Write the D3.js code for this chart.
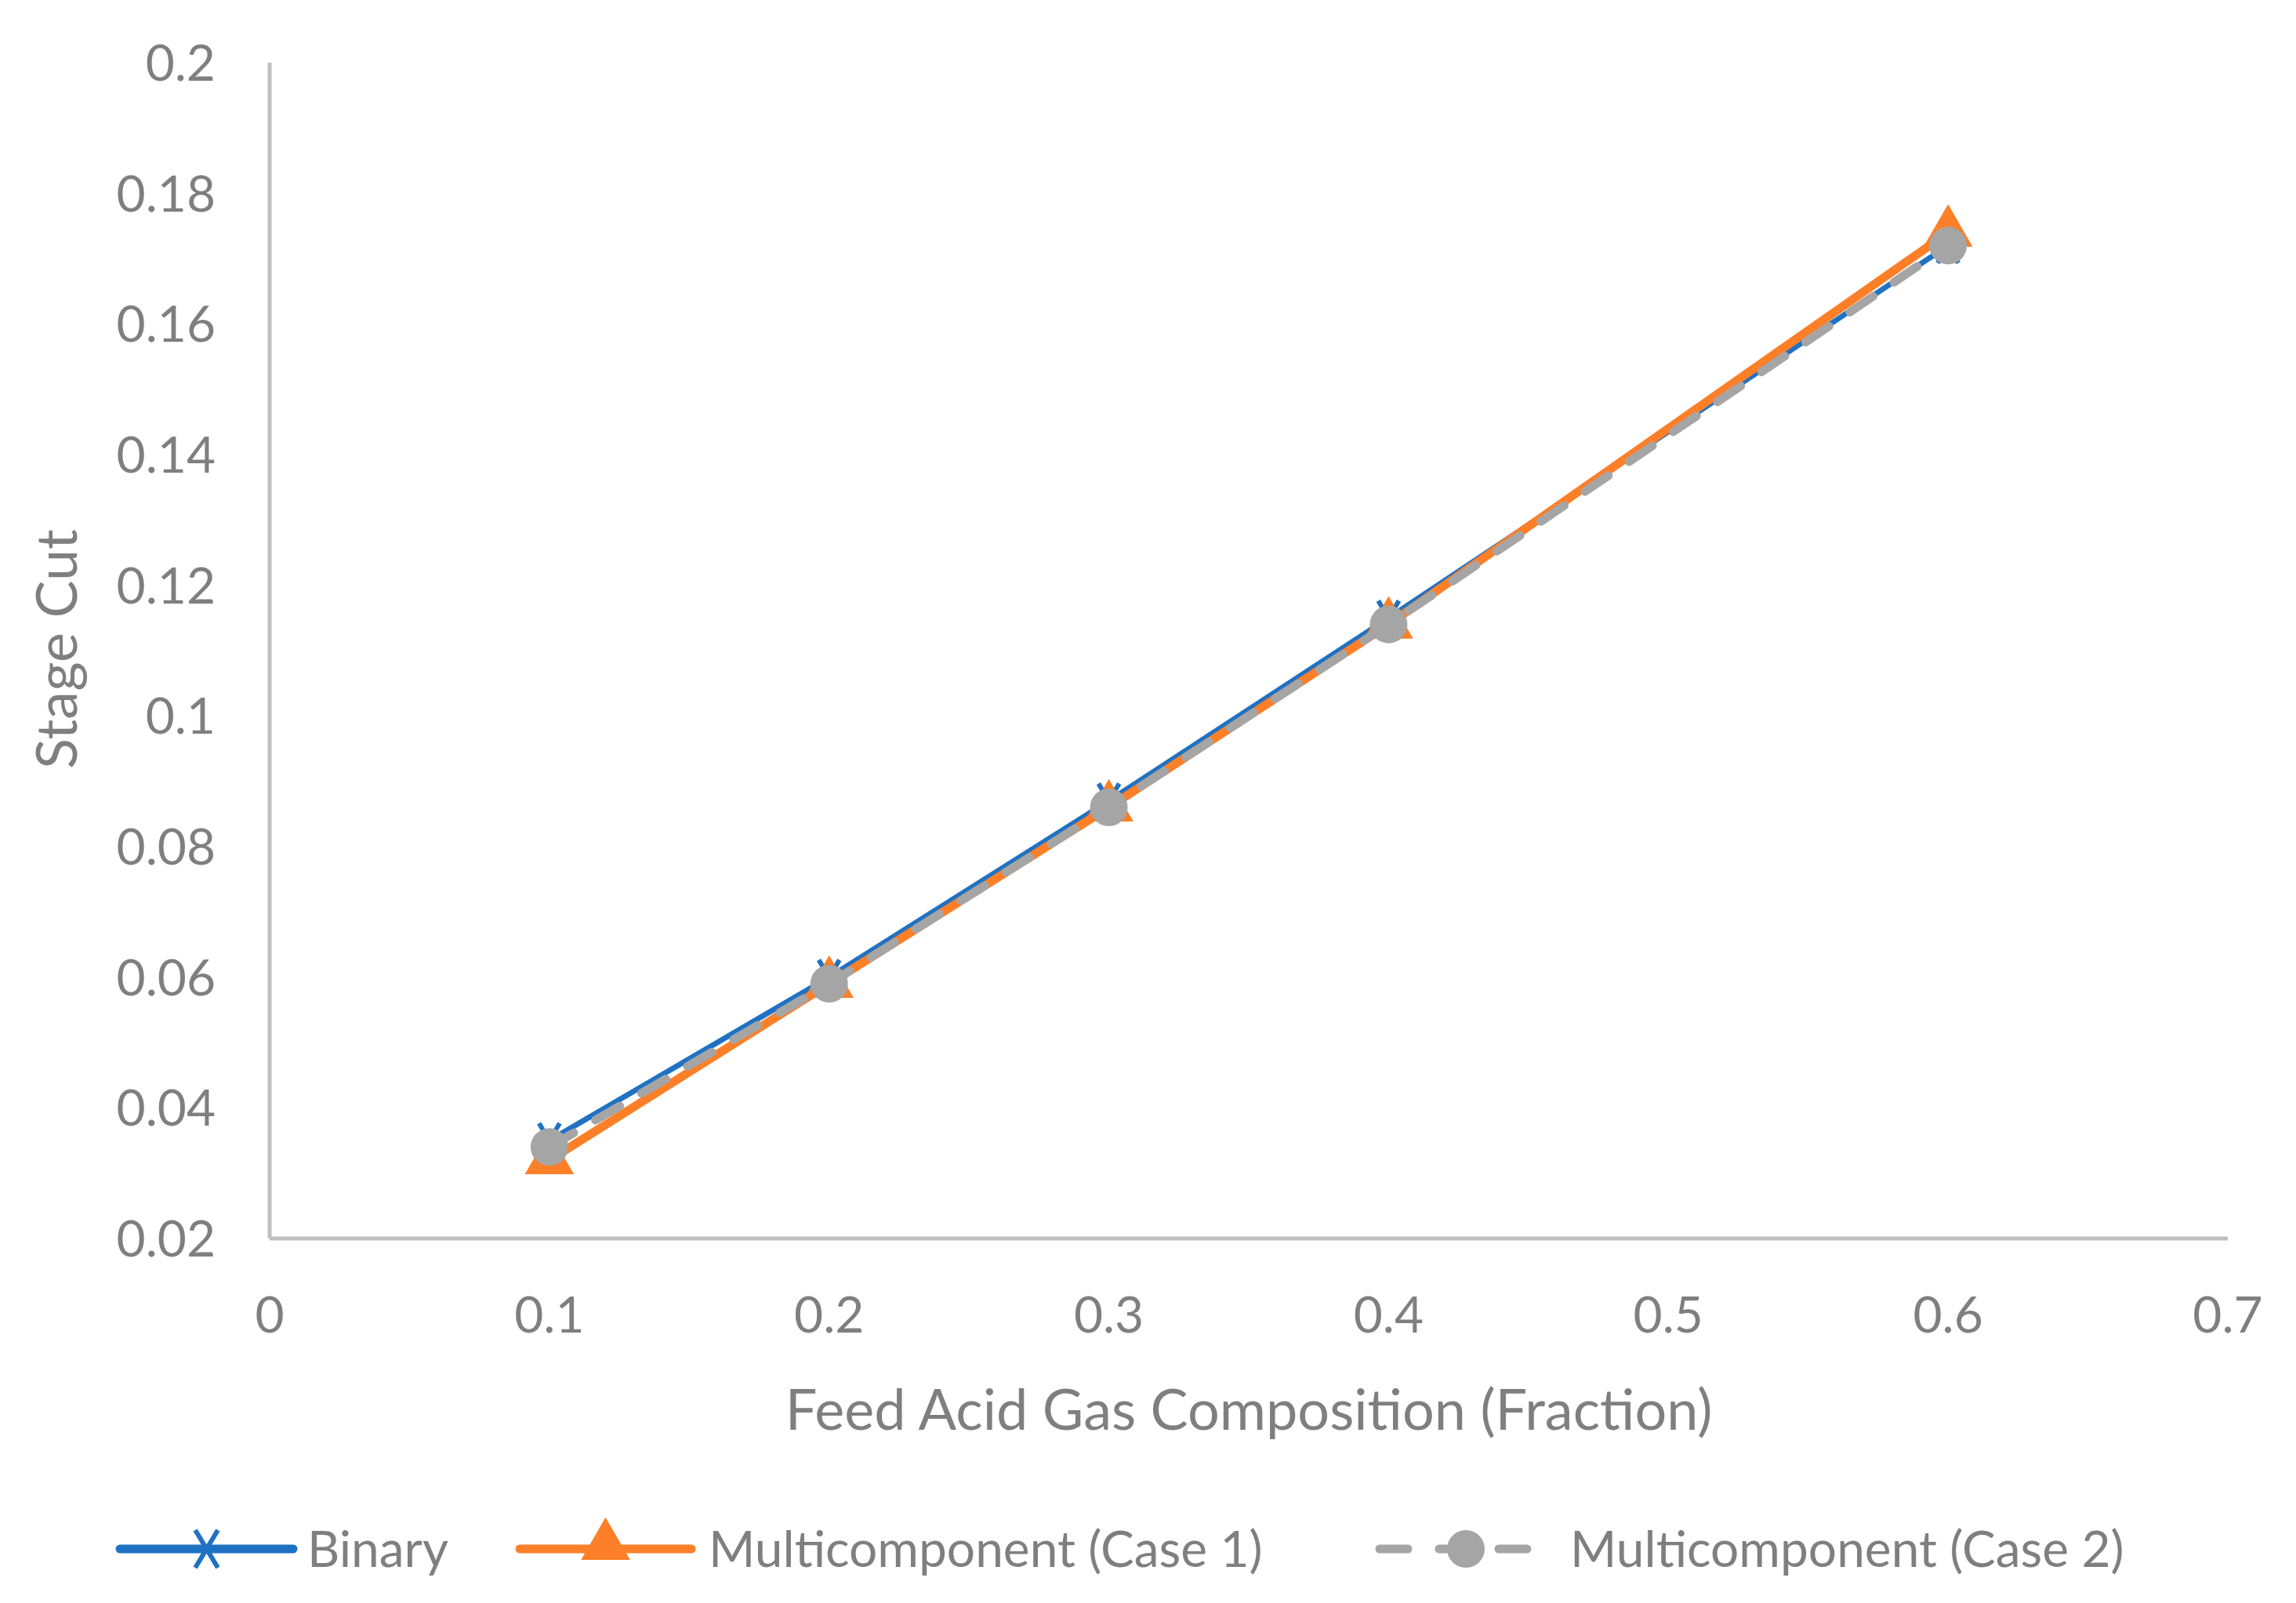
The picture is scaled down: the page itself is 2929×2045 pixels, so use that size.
<!DOCTYPE html>
<html>
<head>
<meta charset="utf-8">
<script src="https://cdn.jsdelivr.net/npm/d3@7"></script>
<style>
  body { margin: 0; background: #fff; }
  text { font-family: Lato, "Open Sans", sans-serif; fill: #7f7f7f; }
</style>
</head>
<body>
<svg id="chart" width="2929" height="2045"></svg>
<script>
var xValues = [0.1, 0.2, 0.3, 0.4, 0.6];
var binary = [0.035, 0.060, 0.087, 0.115, 0.172];
var case1 = [0.032, 0.059, 0.086, 0.114, 0.174];
var case2 = [0.034, 0.059, 0.086, 0.114, 0.172];
var xTicks = [0, 0.1, 0.2, 0.3, 0.4, 0.5, 0.6, 0.7];
var yTicks = [0.02, 0.04, 0.06, 0.08, 0.1, 0.12, 0.14, 0.16, 0.18, 0.2];

var svg = d3.select("#chart");
var x = d3.scaleLinear().domain([0, 0.7]).range([344, 2842]);
var y = d3.scaleLinear().domain([0.02, 0.2]).range([1580, 80]);

// axes (only the lines, Excel-style)
svg.append("line").attr("x1", x(0)).attr("x2", x(0.7)).attr("y1", y(0.02)).attr("y2", y(0.02))
    .attr("stroke", "#bfbfbf").attr("stroke-width", 5);
svg.append("line").attr("x1", x(0)).attr("x2", x(0)).attr("y1", y(0.2)).attr("y2", y(0.02))
    .attr("stroke", "#bfbfbf").attr("stroke-width", 5);

svg.selectAll(".xt").data(xTicks).enter().append("text")
    .attr("x", function (d) { return x(d); }).attr("y", 1700)
    .attr("text-anchor", "middle").attr("font-size", 64)
    .text(function (d) { return d3.format("")(d); });
svg.selectAll(".yt").data(yTicks).enter().append("text")
    .attr("x", 275).attr("y", function (d) { return y(d) + 23; })
    .attr("text-anchor", "end").attr("font-size", 64)
    .text(function (d) { return d3.format("")(d); });

svg.append("text").attr("x", 1593).attr("y", 1824).attr("text-anchor", "middle")
    .attr("font-size", 72).text("Feed Acid Gas Composition (Fraction)");
svg.append("text").attr("transform", "translate(98,828) rotate(-90)").attr("text-anchor", "middle")
    .attr("font-size", 72).text("Stage Cut");

function pts(vals) { return xValues.map(function (v, i) { return [x(v), y(vals[i])]; }); }
var line = d3.line();

function xMark(g, cx, cy, s, color) {
    g.append("path").attr("d", "M" + (cx - s * 0.6) + "," + (cy - s) + "L" + (cx + s * 0.6) + "," + (cy + s) +
        "M" + (cx + s * 0.6) + "," + (cy - s) + "L" + (cx - s * 0.6) + "," + (cy + s))
        .attr("stroke", color).attr("stroke-width", 6).attr("fill", "none");
}
var tri = d3.symbol().type(d3.symbolTriangle).size(1700);

// Binary
svg.append("path").attr("d", line(pts(binary))).attr("stroke", "#1f72c3").attr("stroke-width", 7).attr("fill", "none");
var gB = svg.append("g");
pts(binary).forEach(function (p) { xMark(gB, p[0], p[1], 22, "#1f72c3"); });
// Case 1
svg.append("path").attr("d", line(pts(case1))).attr("stroke", "#fd7f27").attr("stroke-width", 11).attr("fill", "none");
svg.selectAll(".tri").data(pts(case1)).enter().append("path")
    .attr("d", tri).attr("transform", function (p) { return "translate(" + p[0] + "," + p[1] + ")"; })
    .attr("fill", "#fd7f27");
// Case 2
svg.append("path").attr("d", line(pts(case2))).attr("stroke", "#a5a5a5").attr("stroke-width", 11)
    .attr("stroke-dasharray", "36,32").attr("stroke-linecap", "round").attr("fill", "none");
svg.selectAll(".circ").data(pts(case2)).enter().append("circle")
    .attr("cx", function (p) { return p[0]; }).attr("cy", function (p) { return p[1]; })
    .attr("r", 24).attr("fill", "#a5a5a5");

// legend
var ly = 1976;
var legend = [
    {name: "Binary", x0: 153, x1: 374, tx: 392},
    {name: "Multicomponent (Case 1)", x0: 663, x1: 882, tx: 904},
    {name: "Multicomponent (Case 2)", x0: 1760, x1: 1980, tx: 2003}
];
svg.append("line").attr("x1", legend[0].x0).attr("x2", legend[0].x1).attr("y1", ly).attr("y2", ly)
    .attr("stroke", "#1f72c3").attr("stroke-width", 11).attr("stroke-linecap", "round");
xMark(svg, (legend[0].x0 + legend[0].x1) / 2, ly, 24, "#1f72c3");
svg.append("line").attr("x1", legend[1].x0).attr("x2", legend[1].x1).attr("y1", ly).attr("y2", ly)
    .attr("stroke", "#fd7f27").attr("stroke-width", 11).attr("stroke-linecap", "round");
svg.append("path").attr("d", tri).attr("fill", "#fd7f27")
    .attr("transform", "translate(" + (legend[1].x0 + legend[1].x1) / 2 + "," + (ly - 4) + ")");
svg.append("line").attr("x1", legend[2].x0).attr("x2", legend[2].x1).attr("y1", ly).attr("y2", ly)
    .attr("stroke", "#a5a5a5").attr("stroke-width", 11).attr("stroke-linecap", "round")
    .attr("stroke-dasharray", "36,40");
svg.append("circle").attr("cx", (legend[2].x0 + legend[2].x1) / 2).attr("cy", ly).attr("r", 24).attr("fill", "#a5a5a5");
svg.selectAll(".lt").data(legend).enter().append("text")
    .attr("x", function (d) { return d.tx; }).attr("y", ly + 23).attr("font-size", 64)
    .text(function (d) { return d.name; });
</script>
</body>
</html>
